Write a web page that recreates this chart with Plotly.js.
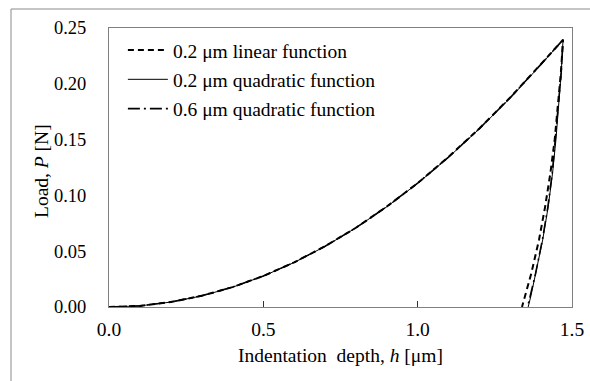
<!DOCTYPE html>
<html>
<head>
<meta charset="utf-8">
<script src="https://cdn.plot.ly/plotly-3.0.1.min.js"></script>
<style>html,body{margin:0;padding:0;background:#fff;}#chart{width:590px;height:381px;}</style>
</head>
<body>
<div id="chart"></div>
<script>
// Loading branch (shared depth points)
const loadH = [0, 0.1, 0.2, 0.3, 0.4, 0.5, 0.6, 0.7, 0.8, 0.9, 1.0, 1.1, 1.2, 1.3, 1.4, 1.471];
const loadP_lin02 = [0, 0.001, 0.0045, 0.0100, 0.0178, 0.0278, 0.0400, 0.0545, 0.0710, 0.0900, 0.1110, 0.1345, 0.1600, 0.1878, 0.2178, 0.2395];
const loadP_quad02 = [0, 0.001, 0.0044, 0.0099, 0.0177, 0.0277, 0.0399, 0.0543, 0.0709, 0.0898, 0.1108, 0.1341, 0.1597, 0.1873, 0.2173, 0.2395];
const loadP_quad06 = [0, 0.001, 0.0045, 0.0100, 0.0178, 0.0278, 0.0400, 0.0544, 0.0710, 0.0899, 0.1110, 0.1343, 0.1599, 0.1876, 0.2176, 0.2395];

// Unloading branch
const unloadH_lin02 = [1.471, 1.464, 1.455, 1.444, 1.430, 1.413, 1.393, 1.368, 1.338];
const unloadP_lin02 = [0.2395, 0.21, 0.18, 0.15, 0.12, 0.09, 0.06, 0.03, 0];
const unloadH_quad02 = [1.471, 1.465, 1.457, 1.448, 1.437, 1.423, 1.405, 1.383, 1.367, 1.358];
const unloadP_quad02 = [0.2395, 0.21, 0.18, 0.15, 0.12, 0.09, 0.06, 0.03, 0.01, 0];
const unloadH_quad06 = [1.471, 1.465, 1.456, 1.447, 1.436, 1.422, 1.404, 1.382, 1.365, 1.356];
const unloadP_quad06 = [0.2395, 0.21, 0.18, 0.15, 0.12, 0.09, 0.06, 0.03, 0.01, 0];

const seriesNames = ["0.2 \u03bcm linear function", "0.2 \u03bcm quadratic function", "0.6 \u03bcm quadratic function"];
const xTicks = [0, 0.5, 1.0, 1.5];
const yTicks = [0, 0.05, 0.10, 0.15, 0.20, 0.25];
const yTitle = "Load, <i>P</i> [N]";
const xTitle = "Indentation&nbsp;&nbsp;depth, <i>h</i> [\u03bcm]";

const font = "'Liberation Serif', 'Times New Roman', serif";
const fs = 19.5;

const traces = [
  {x: loadH.concat(unloadH_lin02.slice(1)), y: loadP_lin02.concat(unloadP_lin02.slice(1)),
   name: seriesNames[0], mode: "lines", legendgroup: "a",
   line: {color: "#000", width: 2, dash: "6px,4px"}},
  {x: loadH.concat(unloadH_quad02.slice(1)), y: loadP_quad02.concat(unloadP_quad02.slice(1)),
   name: seriesNames[1], mode: "lines", legendgroup: "b",
   line: {color: "#000", width: 1}},
  {x: loadH.concat(unloadH_quad06.slice(1)), y: loadP_quad06.concat(unloadP_quad06.slice(1)),
   name: seriesNames[2], mode: "lines", legendgroup: "c",
   line: {color: "#000", width: 1.6, dash: "12px,4px,2px,4px"}}
];

const L = 109, R = 572, T = 28, B = 307, W = 590, H = 381;
const pw = R - L, ph = B - T;
function px(xp){ return (xp - L) / pw; }
function py(yp){ return (B - yp) / ph; }

const layout = {
  width: W, height: H,
  margin: {l: L, r: W - R, t: T, b: H - B, pad: 0},
  paper_bgcolor: "#fff", plot_bgcolor: "#fff",
  font: {family: font, size: fs, color: "#000"},
  showlegend: true,
  legend: {x: 0.03, y: 0.99, xanchor: "left", yanchor: "top", bgcolor: "rgba(0,0,0,0)",
           itemwidth: 40,
           font: {family: font, size: fs, color: "#000"}, traceorder: "grouped", tracegroupgap: 1},
  xaxis: {range: [0, 1.5], tickvals: xTicks, ticktext: xTicks.map(v => v.toFixed(1)),
          ticks: "inside", ticklen: 6, tickcolor: "#333", tickwidth: 1,
          showline: true, linecolor: "#808080", linewidth: 1, mirror: true,
          showgrid: false, zeroline: false, fixedrange: true,
          ticklabelstandoff: 5,
          tickfont: {family: font, size: 19.5, color: "#000"},
          title: {text: xTitle, font: {family: font, size: fs, color: "#000"}, standoff: 8}},
  yaxis: {range: [0, 0.25], tickvals: yTicks, ticktext: yTicks.map(v => v.toFixed(2)),
          ticks: "", showline: true, linecolor: "#808080", linewidth: 1, mirror: true,
          showgrid: false, zeroline: false, fixedrange: true,
          ticklabelstandoff: 18,
          tickfont: {family: font, size: 18.5, color: "#000"},
          title: {text: ""}},
  annotations: [
    {text: yTitle, xref: "paper", yref: "paper", x: px(41), y: py(171),
     xanchor: "center", yanchor: "middle", textangle: -90, showarrow: false,
     font: {family: font, size: fs, color: "#000"}}
  ],
  shapes: [
    {type: "rect", xref: "paper", yref: "paper",
     x0: px(11), x1: px(600), y0: py(400), y1: py(9),
     line: {color: "#8a8a8a", width: 1}, fillcolor: "rgba(0,0,0,0)", layer: "below"}
  ]
};

Plotly.newPlot("chart", traces, layout, {displayModeBar: false, staticPlot: true});
</script>
</body>
</html>
